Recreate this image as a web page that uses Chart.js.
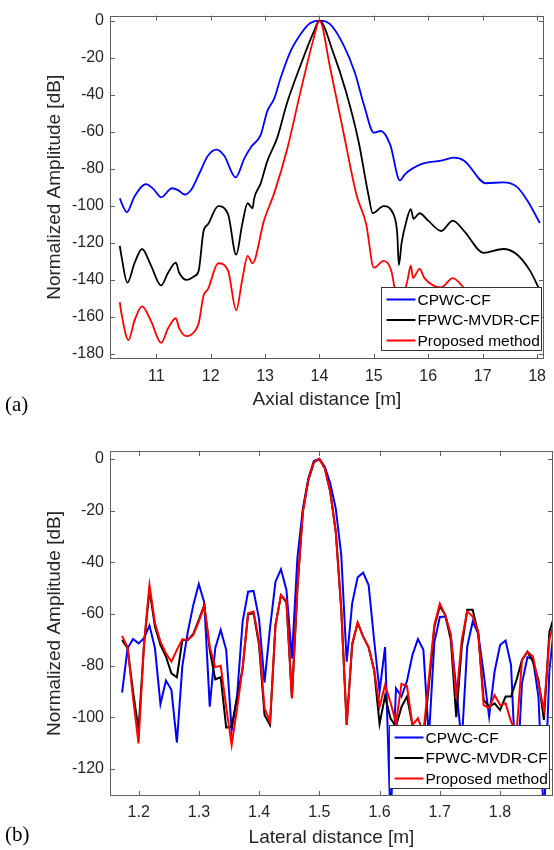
<!DOCTYPE html>
<html>
<head>
<meta charset="utf-8">
<script src="https://cdn.jsdelivr.net/npm/chart.js@4.4.1/dist/chart.umd.min.js"></script>
<style>
  body { margin: 0; background: #fff; width: 554px; height: 850px; position: relative; overflow: hidden; }
  .wrap { position: absolute; left: 0; width: 554px; height: 420px; }
  #wrapA { top: 0; }
  #wrapB { top: 430px; }
  .tag { position: absolute; left: 5px; font-family: "Liberation Serif", "Times New Roman", serif; font-size: 21px; color: #000; }
</style>
</head>
<body>
<div class="wrap" id="wrapA"><canvas id="chartA" width="554" height="420"></canvas></div>
<div class="wrap" id="wrapB"><canvas id="chartB" width="554" height="420"></canvas></div>
<div class="tag" style="top:392px">(a)</div>
<div class="tag" style="top:822px">(b)</div>
<script>
// ---- (a) axial profile ----
const axialTicks = [11, 12, 13, 14, 15, 16, 17, 18];
const ampTicksA = [0, -20, -40, -60, -80, -100, -120, -140, -160, -180];

const axialCpwcX = [10.33, 10.40, 10.46, 10.60, 10.81, 10.95, 11.09, 11.29, 11.40, 11.52, 11.65, 11.80, 11.95, 12.11, 12.25, 12.46,
  12.62, 12.75, 12.92, 13.04, 13.17, 13.28, 13.46, 13.65, 13.82, 14.0, 14.2, 14.45, 14.65, 14.82, 15.0, 15.13, 15.3,
  15.48, 15.57, 15.87, 16.24, 16.47, 16.66, 17.06, 17.38, 17.62, 17.83, 18.05];
const axialCpwcDb = [-96, -101, -103.4, -95, -88.3, -91, -95.4, -90.5, -91.5, -93.9, -91, -82, -73, -69.7, -73, -84.6,
  -74.4, -68, -61.7, -49, -42, -31.5, -17.1, -7.5, -1.6, 0, -2, -13.6, -28, -45.7, -60.5, -59.6, -67,
  -86.3, -83, -77.5, -75.6, -74, -75.6, -87.8, -87.3, -89.5, -97.5, -109.3];

const axialMvdrX = [10.33, 10.36, 10.47, 10.60, 10.74, 10.90, 11.09, 11.22, 11.36, 11.42, 11.56, 11.70, 11.78, 11.87, 11.95, 12.14,
  12.32, 12.47, 12.58, 12.68, 12.77, 12.80, 12.92, 13.04, 13.22, 13.41, 13.65, 13.89, 14.0, 14.25, 14.49, 14.72, 14.90,
  14.98, 15.18, 15.36, 15.43, 15.46, 15.51, 15.60, 15.68, 15.73, 15.84, 16.0, 16.24, 16.45, 16.66, 17.02, 17.38, 17.62,
  17.87, 18.07];
const axialMvdrDb = [-121.6, -127, -141.5, -131, -123.3, -132, -143, -136, -130.7, -136, -140, -138, -135, -113.6, -110, -100.2,
  -104.5, -126.4, -110, -98.6, -101.3, -96, -87.9, -76, -63.6, -44, -24.3, -6.4, 0, -17, -38.6, -65.4, -94,
  -104, -100.2, -104.5, -115, -132, -120, -108, -101.8, -107, -104, -108, -113.6, -108, -113.6, -125.4, -123.3, -126,
  -135, -146.8];

const axialPropX = [10.33, 10.36, 10.49, 10.60, 10.74, 10.90, 11.09, 11.22, 11.36, 11.42, 11.56, 11.70, 11.78, 11.87, 11.95, 12.14,
  12.32, 12.47, 12.58, 12.68, 12.77, 12.98, 13.17, 13.41, 13.65, 13.89, 14.0, 14.2, 14.45, 14.68, 14.86, 15.0,
  15.18, 15.32, 15.39, 15.47, 15.55, 15.62, 15.68, 15.72, 15.84, 15.93, 16.24, 16.45, 16.66, 17.0, 17.4, 17.8, 18.07];
const axialPropDb = [-152, -158, -172.5, -162, -154.3, -162, -174, -166, -160.7, -166, -170.4, -168, -163.4, -148.4, -145, -131,
  -135, -156.4, -140, -127, -131, -108, -93, -69, -38.6, -10, 0, -26, -61.6, -94, -110, -133.4,
  -129.7, -135, -145.7, -155, -148, -140, -132.3, -139, -134, -139, -144, -139, -144.6, -158, -155, -165, -178];

// ---- (b) lateral profile ----
const lateralTicks = [1.2, 1.3, 1.4, 1.5, 1.6, 1.7, 1.8];
const ampTicksB = [0, -20, -40, -60, -80, -100, -120];

const lateralX = [1.1724, 1.1815, 1.1906, 1.1997, 1.2088, 1.2179, 1.2270, 1.2361, 1.2452, 1.2543,
  1.2634, 1.2725, 1.2816, 1.2907, 1.2998, 1.3089, 1.3180, 1.3271, 1.3362, 1.3453,
  1.3544, 1.3635, 1.3726, 1.3817, 1.3908, 1.3999, 1.4090, 1.4181, 1.4272, 1.4363,
  1.4454, 1.4545, 1.4636, 1.4727, 1.4818, 1.4909, 1.5000, 1.5091, 1.5182, 1.5273,
  1.5364, 1.5455, 1.5546, 1.5637, 1.5728, 1.5819, 1.5910, 1.6001, 1.6092, 1.6183,
  1.6274, 1.6365, 1.6456, 1.6547, 1.6638, 1.6729, 1.6820, 1.6911, 1.7002, 1.7093,
  1.7184, 1.7275, 1.7366, 1.7457, 1.7548, 1.7639, 1.7730, 1.7821, 1.7912, 1.8003,
  1.8094, 1.8185, 1.8276, 1.8367, 1.8458, 1.8549, 1.8640, 1.8731, 1.8822, 1.8913];

const lateralCpwc = [-90.5, -73.3, -69.7, -71.4, -69.4, -64.5, -73.3, -94.9, -85.8, -89.4,
  -109.8, -80.1, -66.9, -56.5, -48.4, -55.6, -95.9, -73.3, -66.2, -73.9,
  -105, -91.4, -63, -51.4, -51.1, -61.9, -86.6, -65.5, -47.5, -42.7,
  -50.7, -77.2, -38.4, -19.1, -7.5, -0.8, 0, -3, -9.4, -19.1,
  -37, -78.5, -55.9, -45.8, -44, -48.8, -70, -90, -72.8, -140,
  -88.8, -92, -86, -75.9, -69.7, -73.9, -108, -71, -61.2, -61,
  -68, -89, -110, -72.7, -63, -67.5, -83, -99.8, -82.3, -72,
  -70.3, -79.8, -127.5, -86.8, -76.8, -77.4, -92, -140, -82, -62];

const lateralMvdr = [-70.1, -73.3, -90.1, -104.9, -72, -50.7, -64.9, -72, -76.5, -83,
  -84.5, -70.1, -70.1, -67.7, -62.3, -56.5, -73.9, -85.3, -84.5, -104,
  -103.6, -92.6, -81, -60.1, -59.7, -72, -99.1, -103, -64.3, -52.7,
  -55.5, -92.6, -50.1, -20.4, -8.1, -1.3, 0, -3.6, -12.7, -28.1,
  -58, -103, -72, -63.4, -68.8, -72.9, -81.7, -102.6, -91.8, -100.5,
  -103.6, -96, -92, -103, -106, -108, -88, -65, -57, -60.4,
  -70, -100, -72.7, -58.4, -58.4, -67.5, -93.3, -95.9, -94.6, -97.2,
  -92, -92, -85.6, -77.8, -74.6, -78.5, -85.6, -101, -67, -60];

const lateralProp = [-68.5, -72.9, -92.5, -110.1, -71.4, -48.8, -63.6, -70.7, -75.2, -78.5,
  -73.9, -69.8, -70.1, -68.1, -63, -56.9, -72.7, -80.6, -80.1, -96,
  -110.7, -96.5, -81, -59.7, -59.1, -70.7, -96.5, -101.7, -64.3, -52.7,
  -55, -92.6, -50.1, -20.4, -8.1, -1.3, 0, -3.6, -12.7, -28.1,
  -58, -103, -71.4, -63.4, -68.8, -72.9, -81.7, -95.9, -87.5, -94.3,
  -102.3, -87.1, -87.9, -103, -100.4, -106, -85, -64.3, -56, -60.5,
  -68, -93, -70, -59, -61, -66.8, -95.3, -96.5, -91.4, -95.3,
  -94.6, -101.7, -106, -77.8, -74.6, -76.5, -86.8, -97.2, -70, -62];

const seriesNames = ['CPWC-CF', 'FPWC-MVDR-CF', 'Proposed method'];
const seriesColors = ['#0000ff', '#000000', '#ff0000'];
// red drawn last (on top), blue first
const seriesOrder = [2, 1, 0];

const txt = '#262626';
const sans = '"Liberation Sans", Arial, sans-serif';

function pts(xs, ys) {
  return xs.map((x, i) => ({ x: x, y: ys[i] }));
}

// box, inward ticks and the legend drawn on top of the lines
const matlabAxes = {
  id: 'matlabAxes',
  afterDatasetsDraw(chart, args, opts) {
    const ctx = chart.ctx;
    const a = chart.chartArea;
    const xs = chart.scales.x, ys = chart.scales.y;
    ctx.save();
    ctx.strokeStyle = '#5e5e5e';
    ctx.lineWidth = 1;
    ctx.beginPath();
    xs.ticks.forEach((t, i) => {
      const px = Math.round(xs.getPixelForTick(i)) + 0.5;
      ctx.moveTo(px, a.bottom); ctx.lineTo(px, a.bottom - 5);
      ctx.moveTo(px, a.top); ctx.lineTo(px, a.top + 5);
    });
    ys.ticks.forEach((t, i) => {
      const py = Math.round(ys.getPixelForTick(i)) + 0.5;
      ctx.moveTo(a.left, py); ctx.lineTo(a.left + 5, py);
      ctx.moveTo(a.right, py); ctx.lineTo(a.right - 5, py);
    });
    ctx.stroke();
    ctx.strokeRect(Math.round(a.left) + 0.5, Math.round(a.top) + 0.5,
      Math.round(a.right - a.left) - 1, Math.round(a.bottom - a.top) - 1);

    // legend
    const w = 160, h = 63;
    const bx = Math.round(a.right - opts.dx - w) + 0.5;
    const by = Math.round(a.bottom - opts.dy - h) + 0.5;
    ctx.fillStyle = '#fff';
    ctx.fillRect(bx, by, w, h);
    ctx.strokeStyle = '#333';
    ctx.strokeRect(bx, by, w, h);
    ctx.font = '15.5px ' + sans;
    ctx.textBaseline = 'middle';
    ctx.textAlign = 'left';
    chart.data.datasets.forEach((ds, i) => {
      const ry = by + 12 + i * 20.5;
      ctx.strokeStyle = ds.borderColor;
      ctx.lineWidth = 2;
      ctx.beginPath();
      ctx.moveTo(bx + 5, ry); ctx.lineTo(bx + 34, ry);
      ctx.stroke();
      ctx.fillStyle = '#000';
      ctx.fillText(ds.label, bx + 36, ry + 1);
    });
    ctx.restore();
  }
};

function makeChart(id, cfg) {
  const datasets = cfg.series.map((d, i) => ({
    label: seriesNames[i],
    data: d,
    order: seriesOrder[i],
    borderColor: seriesColors[i],
    backgroundColor: seriesColors[i],
    borderWidth: cfg.lineWidth,
    pointRadius: 0,
    fill: false,
    tension: cfg.smooth ? 0.4 : 0,
    cubicInterpolationMode: cfg.smooth ? 'monotone' : 'default'
  }));
  return new Chart(document.getElementById(id), {
    type: 'line',
    data: { datasets: datasets },
    plugins: [matlabAxes],
    options: {
      responsive: false,
      animation: false,
      events: [],
      layout: { padding: { top: cfg.top, right: cfg.right, left: 0, bottom: 0 } },
      plugins: {
        legend: { display: false },
        tooltip: { enabled: false },
        matlabAxes: cfg.legend
      },
      scales: {
        x: {
          type: 'linear',
          min: cfg.xMin, max: cfg.xMax,
          afterBuildTicks: s => { s.ticks = cfg.xTicks.map(v => ({ value: v })); },
          afterFit: s => { s.height = cfg.xAxisH; },
          grid: { display: false, drawTicks: false },
          border: { display: false },
          ticks: {
            color: txt, font: { family: sans, size: 16 }, padding: cfg.xTickPad,
            maxRotation: 0, autoSkip: false,
            callback: cfg.xFmt
          },
          title: {
            display: true, text: cfg.xTitle, color: txt,
            font: { family: sans, size: 19 }, padding: { top: 0, bottom: cfg.xTitlePad }
          }
        },
        y: {
          type: 'linear',
          min: cfg.yMin, max: cfg.yMax,
          afterBuildTicks: s => { s.ticks = cfg.yTicks.map(v => ({ value: v })); },
          afterFit: s => { s.width = 110; },
          grid: { display: false, drawTicks: false },
          border: { display: false },
          ticks: { color: txt, font: { family: sans, size: 16 }, padding: 6, autoSkip: false },
          title: {
            display: true, text: 'Normalized Amplitude [dB]', color: txt,
            font: { family: sans, size: 19 }, padding: { top: 43, bottom: 0 }
          }
        }
      }
    }
  });
}

makeChart('chartA', {
  series: [pts(axialCpwcX, axialCpwcDb), pts(axialMvdrX, axialMvdrDb), pts(axialPropX, axialPropDb)],
  smooth: true, lineWidth: 1.8,
  xMin: 10.15, xMax: 18.125, xTicks: axialTicks, xFmt: v => String(v),
  yMin: -182.7, yMax: 2.7, yTicks: ampTicksA,
  top: 13, right: 3, xAxisH: 61, xTickPad: 8, xTitlePad: 8.6,
  xTitle: 'Axial distance [m]',
  legend: { dx: 3, dy: 9 }
});

makeChart('chartB', {
  series: [pts(lateralX, lateralCpwc), pts(lateralX, lateralMvdr), pts(lateralX, lateralProp)],
  smooth: false, lineWidth: 2,
  xMin: 1.1523, xMax: 1.8882, xTicks: lateralTicks, xFmt: v => v.toFixed(1),
  yMin: -130.5, yMax: 3.1, yTicks: ampTicksB,
  top: 21, right: 1, xAxisH: 54, xTickPad: 7.4, xTitlePad: 0.6,
  xTitle: 'Lateral distance [m]',
  legend: { dx: 4, dy: 8 }
});
</script>
</body>
</html>
